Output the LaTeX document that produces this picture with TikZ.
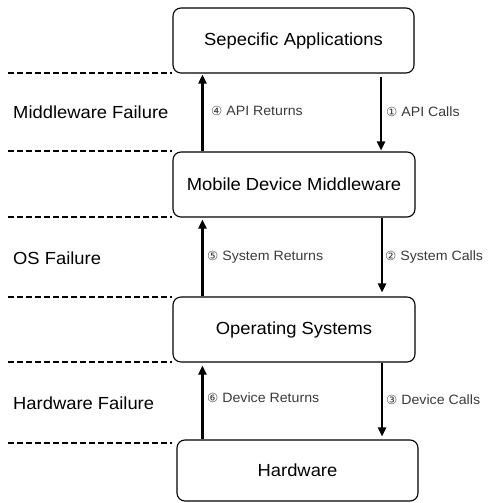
\documentclass[tikz,border=0pt]{standalone}
\usepackage{fontspec}
\setmainfont[FakeStretch=1.05]{Liberation Sans}
\newfontfamily\circfont{DejaVu Sans}
\usetikzlibrary{arrows.meta,calc}
\definecolor{lbl}{HTML}{3A3A3A}
\newcommand{\circnum}[1]{{\circfont\fontsize{12.5}{14}\selectfont #1}}
\begin{document}
\begin{tikzpicture}[x=1pt,y=-1pt,
  layerbox/.style={draw,line width=1.1pt,rounded corners=8pt,minimum height=65pt,minimum width=241pt,inner sep=0pt,font=\fontsize{17.5}{20}\selectfont},
  sidelabel/.style={anchor=west,inner sep=0pt,font=\fontsize{17.5}{20}\selectfont},
  flowlabel/.style={anchor=west,inner sep=0pt,text=lbl,font=\fontsize{13.5}{16}\selectfont},
  flow/.style={line width=2.1pt,-{Triangle[length=9pt,width=8pt]}},
  sep/.style={line width=2pt,dash pattern=on 6pt off 3pt}]
\useasboundingbox (0,0) rectangle (498,503);
\node[layerbox] (app) at (293.5,40.5) {Sepecific Applications};
\node[layerbox,minimum width=242pt] (mid) at (294,184.5) {Mobile Device Middleware};
\node[layerbox,minimum width=242pt] (os) at (294,329.5) {Operating Systems};
\node[layerbox,minimum height=61pt] (hw) at (297.5,470.5) {Hardware};
% separators
\coordinate (s1) at (8,73);  \coordinate (e1) at (172,73);
\coordinate (s2) at (8,151); \coordinate (e2) at (172,151);
\coordinate (s3) at (8,217); \coordinate (e3) at (172,217);
\coordinate (s4) at (8,297); \coordinate (e4) at (172,297);
\coordinate (s5) at (8,362); \coordinate (e5) at (172,362);
\coordinate (s6) at (8,443); \coordinate (e6) at (172,443);
\foreach \i in {1,...,6} \draw[sep] (s\i) -- (e\i);
% arrows
\draw[flow,shorten >=1pt] ([xshift=30pt]mid.north west) -- ([xshift=30pt]app.south west) ;
\draw[flow,shorten <=3pt,shorten >=1pt] ([xshift=-33.5pt]app.south east) -- ([xshift=-33.5pt]app.south east |- mid.north);
\draw[flow,shorten >=2pt] ([xshift=30pt]os.north west) -- ([xshift=30pt]mid.south west);
\draw[flow,shorten >=4pt] ([xshift=-33.5pt]mid.south east) -- ([xshift=-33.5pt]mid.south east |- os.north);
\draw[flow,shorten >=3pt] ([xshift=30pt]os.south west |- hw.north) -- ([xshift=30pt]os.south west);
\draw[flow,shorten >=3pt] ([xshift=-33.5pt]os.south east) -- ([xshift=-33.5pt]os.south east |- hw.north);
% labels
\node[sidelabel] (l1) at (13,112) {Middleware Failure};
\node[sidelabel] (l2) at (13,258) {OS Failure};
\node[sidelabel] (l3) at (13,403) {Hardware Failure};
\node[flowlabel] (f4) at (211,111) {\circnum{④} API Returns};
\node[flowlabel] (f1) at (386,112) {\circnum{①} API Calls};
\node[flowlabel] (f5) at (207,257) {\circnum{⑤} System Returns};
\node[flowlabel] (f2) at (385,257) {\circnum{②} System Calls};
\node[flowlabel] (f6) at (207,398) {\circnum{⑥} Device Returns};
\node[flowlabel] (f3) at (386,400) {\circnum{③} Device Calls};
\end{tikzpicture}
\end{document}
